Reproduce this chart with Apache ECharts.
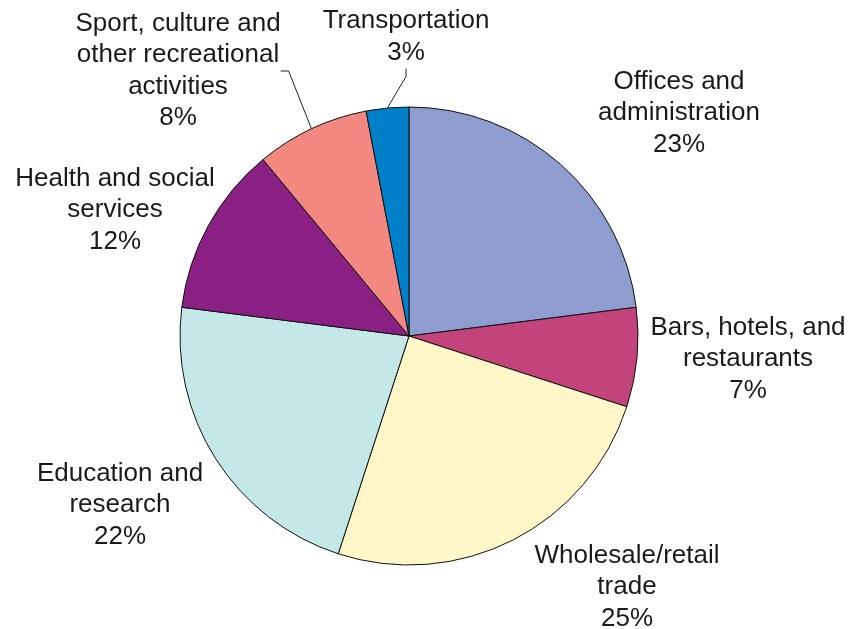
<!DOCTYPE html>
<html>
<head>
<meta charset="utf-8">
<script src="https://cdn.jsdelivr.net/npm/echarts@6/dist/echarts.min.js"></script>
<style>
  html, body { margin: 0; padding: 0; background: #fff; }
  #chart { width: 850px; height: 629px; }
</style>
</head>
<body>
<div id="chart"></div>
<script>
// Sectors, clockwise from twelve o'clock
const sectors = [
  'Offices and\nadministration',
  'Bars, hotels, and\nrestaurants',
  'Wholesale/retail\ntrade',
  'Education and\nresearch',
  'Health and social\nservices',
  'Sport, culture and\nother recreational\nactivities',
  'Transportation'
];
const shares = [23, 7, 25, 22, 12, 8, 3];
const sliceColors = ['#8f9cd0', '#c2447a', '#fff7c8', '#c4e8e8', '#8a2084', '#f28880', '#0080c8'];

// Where each label block is centred
const labelCentres = [
  [679, 113], [748, 359], [627, 587], [120, 505],
  [115, 210], [178, 71], [406, 37]
];
// Only the two narrow top slices get a leader line
const withLeader = [false, false, false, false, false, true, true];

const chart = echarts.init(document.getElementById('chart'), null, { renderer: 'canvas' });

chart.setOption({
  animation: false,
  backgroundColor: '#ffffff',
  series: [{
    type: 'pie',
    center: [409, 336],
    radius: 229,
    startAngle: 90,
    clockwise: true,
    avoidLabelOverlap: false,
    itemStyle: { borderColor: '#111', borderWidth: 1 },
    emphasis: { disabled: true },
    label: {
      show: true,
      position: 'outside',
      formatter: p => p.name + '\n' + p.value + '%',
      fontFamily: 'Liberation Sans, Arial, sans-serif',
      fontSize: 26,
      lineHeight: 31.5,
      color: '#1a1a1a',
      align: 'center'
    },
    labelLine: { show: false, lineStyle: { color: '#222', width: 1 }, length: 10, length2: 8 },
    labelLayout: p => ({
      x: labelCentres[p.dataIndex][0],
      y: labelCentres[p.dataIndex][1],
      align: 'center',
      verticalAlign: 'middle'
    }),
    data: sectors.map((name, i) => ({
      name: name,
      value: shares[i],
      itemStyle: { color: sliceColors[i] },
      labelLine: { show: withLeader[i] }
    }))
  }]
});
</script>
</body>
</html>
